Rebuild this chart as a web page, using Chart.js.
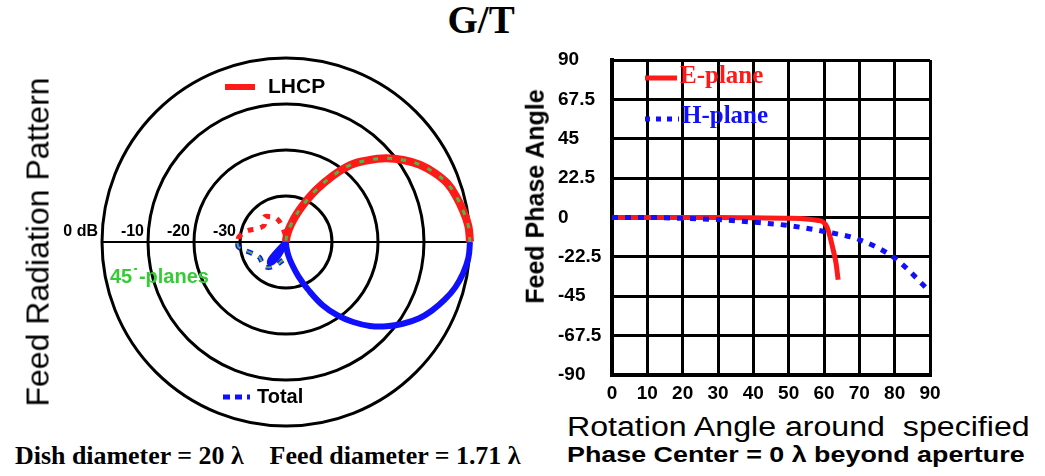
<!DOCTYPE html>
<html>
<head>
<meta charset="utf-8">
<script src="https://cdn.jsdelivr.net/npm/chart.js@4.4.1/dist/chart.umd.min.js"></script>
<style>
  html, body { margin: 0; padding: 0; background: #fff; }
  #page { position: relative; width: 1045px; height: 476px; overflow: hidden; background: #fff; }
  canvas { position: absolute; }
  .txt { position: absolute; white-space: pre; line-height: 1; color: #000; transform-origin: 0 50%; }
  .sans { font-family: "Liberation Sans", Arial, sans-serif; }
  .serif { font-family: "Liberation Serif", "Times New Roman", serif; font-weight: bold; }
  .rot { transform-origin: 50% 50%; }
</style>
</head>
<body>
<div id="page">
  <canvas id="polar" width="456" height="400" style="left:46px; top:42px"></canvas>
  <canvas id="phase" width="420" height="365" style="left:540px; top:45px"></canvas>

  <div class="txt serif" id="title" style="font-size:39px">G/T</div>
  <div class="txt sans rot" id="leftTitle" style="font-size:32px">Feed Radiation Pattern</div>
  <div class="txt sans rot" id="phaseTitle" style="font-size:25px; font-weight:bold">Feed Phase Angle</div>
  <div class="txt sans" id="xTitle1" style="font-size:27px">Rotation Angle around  specified</div>
  <div class="txt sans" id="xTitle2" style="font-size:22px; font-weight:bold">Phase Center = 0 λ beyond aperture</div>
  <div class="txt serif" id="dish" style="font-size:25px">Dish diameter = 20 λ    Feed diameter = 1.71 λ</div>
</div>

<script>
// radiation pattern, dB vs. off-axis angle (deg); plot centre is -40 dB
const DB_MIN = -40;
const ringLevels = [0, -10, -20, -30];
const ringLabels = ['0 dB', '-10', '-20', '-30'];

const mainTheta = [0, 5, 10, 15, 20, 25, 30, 35, 40, 45, 50, 55, 60, 65, 70, 75, 80, 85, 90];
const lhcpMain  = [0, -0.2, -0.9, -1.7, -2.7, -4.4, -6.4, -8.9, -11.7, -14.9, -18.1, -22.6, -27, -31, -34, -36.4, -38, -39.2, -40];
const totalMain = [0, -0.2, -0.9, -1.9, -3.3, -4.9, -6.7, -9, -11.5, -14.2, -17.3, -20.6, -24.2, -28.5, -32, -35, -37, -38.8, -40];

const loopTheta = [114, 119, 124, 128, 132, 137];
const totalLoop = [-40, -36.5, -34.8, -34.3, -35.5, -40];

const lhcpSideTheta = [95, 105, 113, 122, 131, 142, 153, 165, 174, 180];
const lhcpSide      = [-38.5, -36, -34.3, -33.5, -32.8, -34, -33.4, -31, -29.7, -29.6];
const totalSideTheta = [100, 115, 129, 140, 151, 163, 174, 180];
const totalSide      = [-36, -34.3, -33, -33.2, -33.3, -32, -29.6, -29.5];

// feed phase vs. rotation angle
const eAngle = [0, 10, 20, 30, 40, 50, 55, 58, 59.7, 60.8, 61.7, 62.6, 63.4, 64];
const ePhase = [0, 0, 0, 0, -0.2, -0.4, -0.8, -1.6, -2.5, -5.3, -11, -18.5, -26, -35.6];
const hAngle = [0, 10, 20, 30, 40, 50, 60, 70, 80, 90];
const hPhase = [0, 0, -0.5, -1.2, -2.7, -4.6, -8, -12.7, -23.2, -42.3];

const SANS = '"Liberation Sans", Arial, sans-serif';
const SERIF = '"Liberation Serif", "Times New Roman", serif';
const RED = '#ff1a1a';
const BLUE = '#1010ff';
const GREEN = '#4cb848';

Chart.defaults.font.family = SANS;
Chart.defaults.animation = false;

// upper half for one plane, lower half for the other
function polarPoints(thetas, dbs, side) {
  return thetas.map((t, i) => {
    const r = dbs[i] - DB_MIN;
    const a = t * Math.PI / 180;
    return { x: r * Math.cos(a), y: side * r * Math.sin(a) };
  });
}

const polarFrame = {
  id: 'polarFrame',
  beforeDatasetsDraw(chart) {
    const { ctx, scales: { x, y } } = chart;
    const cx = x.getPixelForValue(0), cy = y.getPixelForValue(0);
    ctx.save();
    ctx.strokeStyle = '#000';
    ctx.lineWidth = 3;
    ringLevels.forEach(db => {
      const r = x.getPixelForValue(db - DB_MIN) - cx;
      ctx.beginPath();
      ctx.arc(cx, cy, r, 0, Math.PI * 2);
      ctx.stroke();
    });
    ctx.lineWidth = 2;
    ctx.beginPath();
    ctx.moveTo(x.getPixelForValue(DB_MIN), cy);
    ctx.lineTo(x.getPixelForValue(-DB_MIN), cy);
    ctx.stroke();

    ctx.fillStyle = '#000';
    ctx.font = 'bold 16px ' + SANS;
    ctx.textAlign = 'right';
    ctx.textBaseline = 'middle';
    ringLevels.forEach((db, i) => {
      const r = x.getPixelForValue(db - DB_MIN) - cx;
      ctx.fillText(ringLabels[i], cx - r - 4, cy - 10);
    });
    ctx.restore();
  },
  afterDatasetsDraw(chart) {
    const { ctx, scales: { x, y } } = chart;
    const cx = x.getPixelForValue(0), cy = y.getPixelForValue(0);
    ctx.save();
    ctx.textBaseline = 'middle';
    ctx.textAlign = 'left';

    ctx.strokeStyle = RED;
    ctx.lineWidth = 6;
    ctx.beginPath();
    ctx.moveTo(cx - 61, cy - 155);
    ctx.lineTo(cx - 31, cy - 155);
    ctx.stroke();
    ctx.fillStyle = '#000';
    ctx.font = 'bold 21px ' + SANS;
    ctx.fillText('LHCP', cx - 18, cy - 155);

    ctx.strokeStyle = BLUE;
    ctx.lineWidth = 5;
    ctx.setLineDash([7, 5]);
    ctx.beginPath();
    ctx.moveTo(cx - 63, cy + 155);
    ctx.lineTo(cx - 36, cy + 155);
    ctx.stroke();
    ctx.setLineDash([]);
    ctx.font = 'bold 20px ' + SANS;
    ctx.fillText('Total', cx - 29, cy + 155);

    ctx.fillStyle = '#33cc33';
    ctx.font = 'bold 20px ' + SANS;
    ctx.fillText('45\u02d9-planes', cx - 176, cy + 35);
    ctx.restore();
  }
};

new Chart(document.getElementById('polar'), {
  type: 'scatter',
  data: {
    datasets: [
      { data: polarPoints(mainTheta, lhcpMain, 1), borderColor: GREEN, borderWidth: 3,
        borderDash: [5, 9], order: 0 },
      { data: polarPoints(totalSideTheta, totalSide, -1), borderColor: GREEN, borderWidth: 2,
        borderDash: [6, 7], order: 0 },
      { data: polarPoints(mainTheta, lhcpMain, 1), borderColor: RED, borderWidth: 8, order: 1 },
      { data: polarPoints(lhcpSideTheta, lhcpSide, 1), borderColor: RED, borderWidth: 5,
        borderDash: [6, 7], order: 1 },
      { data: polarPoints(mainTheta.concat(loopTheta), totalMain.concat(totalLoop), -1),
        borderColor: BLUE, borderWidth: 6, order: 2 },
      { data: polarPoints(totalSideTheta, totalSide, -1), borderColor: BLUE, borderWidth: 5,
        borderDash: [6, 7], order: 2 }
    ].map(d => Object.assign({ showLine: true, pointRadius: 0, tension: 0.4, clip: false,
      borderCapStyle: 'butt' }, d))
  },
  options: {
    responsive: false,
    layout: { padding: { left: 56, right: 32, top: 16, bottom: 16 } },
    plugins: { legend: { display: false }, tooltip: { enabled: false } },
    scales: {
      x: { type: 'linear', min: DB_MIN, max: -DB_MIN, display: false },
      y: { type: 'linear', min: DB_MIN, max: -DB_MIN, display: false }
    }
  },
  plugins: [polarFrame]
});

const phaseLegend = {
  id: 'phaseLegend',
  afterDatasetsDraw(chart) {
    const { ctx, chartArea: a } = chart;
    ctx.save();
    ctx.lineWidth = 5;
    ctx.strokeStyle = RED;
    ctx.beginPath();
    ctx.moveTo(a.left + 33, a.top + 18);
    ctx.lineTo(a.left + 65, a.top + 18);
    ctx.stroke();
    ctx.strokeStyle = BLUE;
    ctx.setLineDash([5, 6]);
    ctx.beginPath();
    ctx.moveTo(a.left + 33, a.top + 59);
    ctx.lineTo(a.left + 67, a.top + 59);
    ctx.stroke();
    ctx.setLineDash([]);
    ctx.font = 'bold 25px ' + SERIF;
    ctx.textBaseline = 'middle';
    ctx.fillStyle = RED;
    ctx.fillText('E-plane', a.left + 68, a.top + 17);
    ctx.fillStyle = BLUE;
    ctx.fillText('H-plane', a.left + 70, a.top + 57);
    ctx.restore();
  }
};

const tickFont = { family: SANS, size: 19, weight: 'bold' };

new Chart(document.getElementById('phase'), {
  type: 'scatter',
  data: {
    datasets: [
      { label: 'H-plane', data: hAngle.map((v, i) => ({ x: v, y: hPhase[i] })),
        borderColor: BLUE, borderWidth: 5, borderDash: [6, 7], order: 0 },
      { label: 'E-plane', data: eAngle.map((v, i) => ({ x: v, y: ePhase[i] })),
        borderColor: RED, borderWidth: 5, order: 1 }
    ].map(d => Object.assign({ showLine: true, pointRadius: 0, cubicInterpolationMode: 'monotone',
      clip: false }, d))
  },
  options: {
    responsive: false,
    layout: { padding: { left: 18, top: 15, right: 30, bottom: 0 } },
    plugins: { legend: { display: false }, tooltip: { enabled: false } },
    scales: {
      x: {
        type: 'linear', min: 0, max: 90,
        ticks: { stepSize: 10, color: '#000', font: tickFont, padding: 7, maxRotation: 0, autoSkip: false },
        grid: { color: '#000', lineWidth: 3, drawTicks: false },
        border: { color: '#000', width: 4 },
        afterFit(s) { s.height = 35; }
      },
      y: {
        type: 'linear', min: -90, max: 90,
        ticks: { stepSize: 22.5, color: '#000', font: tickFont, crossAlign: 'far', autoSkip: false },
        grid: { color: '#000', lineWidth: 3, drawTicks: false },
        border: { color: '#000', width: 4 },
        afterFit(s) { s.width = 54; }
      }
    }
  },
  plugins: [phaseLegend]
});

// page captions
function placeText(id, left, capMid, width) {
  const el = document.getElementById(id);
  const size = parseFloat(getComputedStyle(el).fontSize);
  const k = el.classList.contains('serif') ? 0.506 : 0.488;
  el.style.left = left + 'px';
  el.style.top = (capMid - k * size) + 'px';
  if (width) el.style.transform = 'scaleX(' + (width / el.offsetWidth).toFixed(3) + ')';
}
function placeRotated(id, cx, cy) {
  const el = document.getElementById(id);
  el.style.left = (cx - el.offsetWidth / 2) + 'px';
  el.style.top = (cy - el.offsetHeight / 2) + 'px';
  el.style.transform = 'rotate(-90deg)';
}

const title = document.getElementById('title');
placeText('title', 481 - title.offsetWidth / 2, 20);
placeRotated('leftTitle', 37, 242);
placeRotated('phaseTitle', 535, 196);
placeText('xTitle1', 567, 427, 463);
placeText('xTitle2', 567, 455, 458);
placeText('dish', 15, 456, 505);
</script>
</body>
</html>
